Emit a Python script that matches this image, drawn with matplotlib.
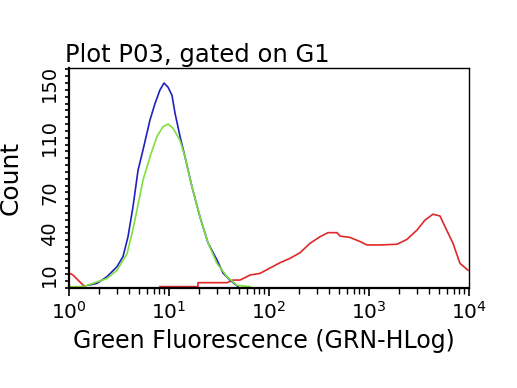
import numpy as np
import matplotlib.pyplot as plt
from matplotlib.ticker import LogLocator, FixedLocator, MultipleLocator, NullFormatter

# Valores (x em décadas log10, y em contagens)
blue_logx = [0.19, 0.28, 0.38, 0.48, 0.54, 0.59, 0.64, 0.69, 0.74, 0.81, 0.86, 0.91,
             0.95, 0.99, 1.03, 1.06, 1.11, 1.16, 1.23, 1.31, 1.39, 1.48, 1.54, 1.61, 1.69]
blue_count = [2, 3.4, 8.3, 15.6, 23, 37.5, 59.5, 86, 101, 123, 135, 145,
              150, 147, 141, 128, 111, 96, 74, 52, 33, 20.5, 11, 5.8, 1]

green_logx = [0.01, 0.14, 0.24, 0.38, 0.48, 0.58, 0.63, 0.68, 0.74, 0.81, 0.88, 0.94,
              0.99, 1.04, 1.11, 1.16, 1.23, 1.31, 1.39, 1.48, 1.58, 1.68, 1.81]
green_count = [1, 1, 3.4, 7, 13, 25, 40, 57, 79, 96, 111, 118,
               120, 117, 108, 96, 74, 52, 33, 18, 8.3, 2, 1]

red_logx_a = [0.0, 0.0, 0.04, 0.09, 0.14, 0.16]
red_count_a = [0, 11, 9.5, 5.8, 2.2, 1.5]

red_logx_b = [0.91, 1.29, 1.29, 1.58, 1.64, 1.71, 1.78, 1.81, 1.91, 2.01, 2.11, 2.21,
              2.31, 2.41, 2.51, 2.59, 2.68, 2.71, 2.81, 2.91, 2.98, 3.11, 3.28, 3.38,
              3.48, 3.56, 3.64, 3.71, 3.76, 3.84, 3.91, 3.99]
red_count_b = [1, 1, 3.9, 3.9, 5.8, 5.8, 8.3, 9.5, 10.7, 14.6, 18.5, 21.7,
               25.8, 32.7, 37.5, 40.5, 40.5, 38, 37, 34, 31.5, 31.5, 32, 35.6,
               42.4, 49.7, 54, 52.7, 44.9, 32.7, 18, 13]

y_ticks = [10, 40, 70, 110, 150]

fig = plt.figure(figsize=(5.17, 3.88), dpi=100)
ax = fig.add_axes([69 / 517, 100 / 388, 400 / 517, 220 / 388])

ax.plot(np.power(10, red_logx_a), red_count_a, color="#e02828", lw=1.2)
ax.plot(np.power(10, red_logx_b), red_count_b, color="#e02828", lw=1.2)
ax.plot(np.power(10, blue_logx), blue_count, color="#2020c0", lw=1.2)
ax.plot(np.power(10, green_logx), green_count, color="#7ee03c", lw=1.2)

ax.set_xscale("log")
ax.set_xlim(1, 1e4)
ax.set_ylim(0, 161)

ax.xaxis.set_major_locator(LogLocator(base=10))
ax.xaxis.set_minor_locator(LogLocator(base=10, subs=np.arange(2, 10)))
ax.xaxis.set_minor_formatter(NullFormatter())
ax.yaxis.set_major_locator(FixedLocator(y_ticks))
ax.yaxis.set_minor_locator(MultipleLocator(5))

ax.tick_params(axis="x", which="major", length=6, width=1.2, labelsize=14.5, pad=3)
ax.tick_params(axis="x", which="minor", length=4, width=1.0)
ax.tick_params(axis="y", which="both", length=3, width=1.2, labelsize=14, pad=4)
for lbl in ax.get_yticklabels():
    lbl.set_rotation(90)
    lbl.set_va("center")

for s in ["left", "bottom"]:
    ax.spines[s].set_linewidth(1.6)
for s in ["top", "right"]:
    ax.spines[s].set_linewidth(1.0)

ax.set_title("Plot P03, gated on G1", loc="left", fontsize=17.5, x=-0.01, pad=4)
ax.set_xlabel("Green Fluorescence (GRN-HLog)", fontsize=17)
ax.set_ylabel("Count", fontsize=18)
ax.xaxis.set_label_coords(0.486, -0.185)
ax.yaxis.set_label_coords(-0.115, 0.5)

plt.savefig("out.png", dpi=100)
